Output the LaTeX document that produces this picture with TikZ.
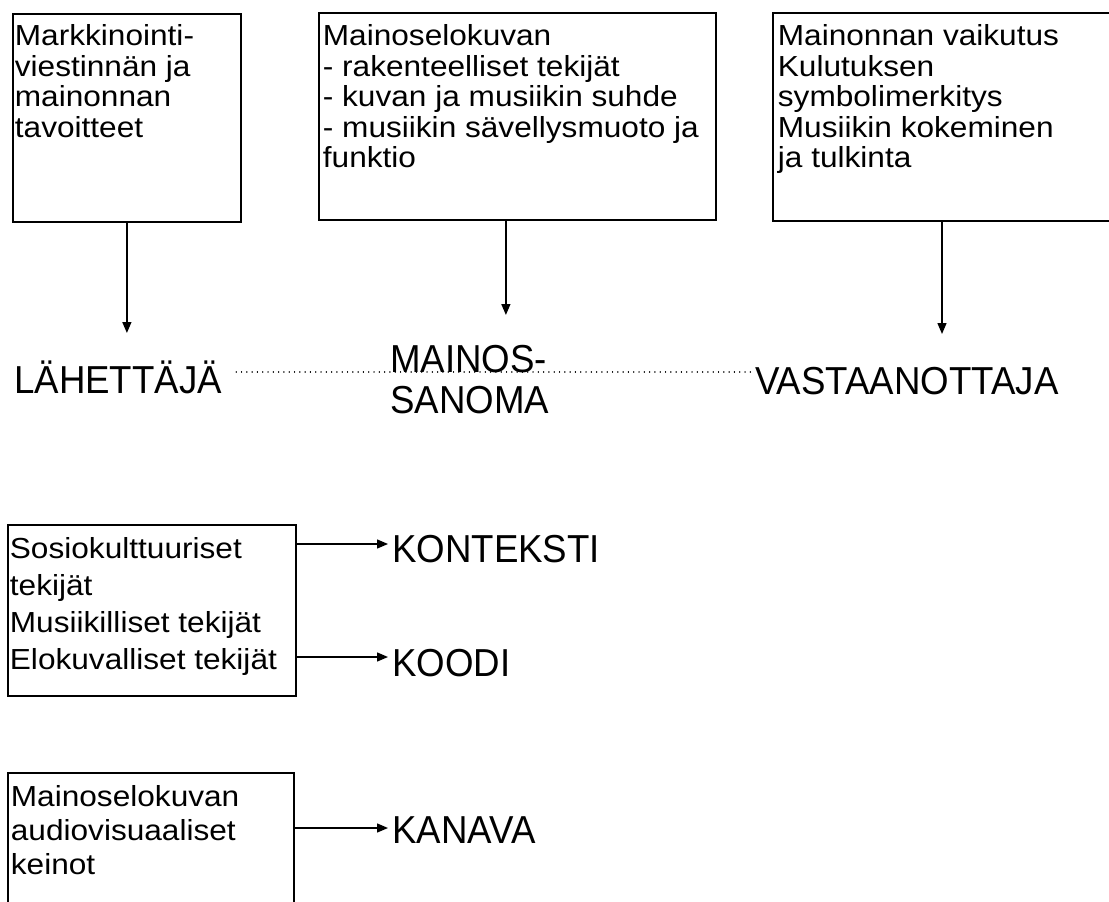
\documentclass[tikz,border=0pt]{standalone}
\usepackage{fontspec}
\usetikzlibrary{arrows.meta,calc}
\setmainfont{Liberation Sans}
% Box lettering is a touch wider, the large labels a touch narrower
\newfontfamily\boxfont[FakeStretch=1.09]{Liberation Sans}
\newfontfamily\labelfont[FakeStretch=0.94]{Liberation Sans}

\tikzset{
  txtbox/.style={draw, line width=1.8pt, inner sep=0pt, anchor=north west},
  biglabel/.style={inner sep=0pt, anchor=base west,
    font=\labelfont\fontsize{39}{41}\selectfont},
  arr/.style={line width=1.4pt, -{Triangle[length=11pt,width=9pt]}},
  dotline/.style={line width=1.3pt, line cap=round, dash pattern=on 0.1pt off 5.2pt},
}

% box contents: width, height, left indent, first-line strut, line spacing, text
\newcommand\boxtext[6]{\parbox[c][#2][t]{#1}{\boxfont\fontsize{29}{#5}\selectfont
  \lineskiplimit=-20pt\leftskip=#3\relax\rule{0pt}{#4}#6}}

\begin{document}
\begin{tikzpicture}[x=1pt,y=-1pt]
\useasboundingbox (0,0) rectangle (1109,902);
\clip (0,0) rectangle (1109,902);
\fill[white] (0,0) rectangle (1109,902);

% --- upper row: boxes -------------------------------------------------
\node[txtbox] (b1) at (12,13)
  {\boxtext{228pt}{208pt}{2pt}{32pt}{30.5}{Markkinointi-\\viestinnän ja\\mainonnan\\tavoitteet}};
\node[txtbox] (b2) at (318,12)
  {\boxtext{397pt}{207pt}{4pt}{33pt}{30.5}{Mainoselokuvan\\- rakenteelliset tekijät\\- kuvan ja musiikin suhde\\- musiikin sävellysmuoto ja\\funktio}};
\node[txtbox] (b3) at (772,12)
  {\boxtext{345pt}{208pt}{5pt}{33pt}{30.5}{Mainonnan vaikutus\\Kulutuksen\\symbolimerkitys\\Musiikin kokeminen\\ja tulkinta}};

% --- communication chain ----------------------------------------------
\node[biglabel] (lah) at (14,393) {LÄHETTÄJÄ};
\node[biglabel] (mai) at (390,372) {\vtop{\hbox{MAINOS-}\hbox{SANOMA}}};
\node[biglabel] (vas) at (755,394) {VASTAANOTTAJA};

\draw[dotline] ([shift={(14,-21)}]lah.base east) -- ([shift={(-4,-22)}]vas.base west);

\draw[arr, shorten >=60pt] (b1.south) -- (b1.south |- lah.base);
\draw[arr, shorten >=57pt] ([xshift=-11.5pt]b2.south) -- ([xshift=-11.5pt]b2.south |- mai.base);
\draw[arr, shorten >=60pt] (b3.south -| 942,0) -- (942,0 |- vas.base);

% --- context and code -------------------------------------------------
\node[txtbox] (b4) at (7,524)
  {\boxtext{288pt}{171pt}{2pt}{34pt}{37}{Sosiokulttuuriset\\tekijät\\Musiikilliset tekijät\\Elokuvalliset tekijät}};
\node[biglabel] (kon) at (392,562) {KONTEKSTI};
\node[biglabel] (koo) at (392,676) {KOODI};
\coordinate (konin) at ([yshift=18pt]kon.base west);
\coordinate (kooin) at ([yshift=19pt]koo.base west);
\draw[arr, shorten >=4pt] (b4.east |- konin) -- (konin);
\draw[arr, shorten >=4pt] (b4.east |- kooin) -- (kooin);

% --- channel ------------------------------------------------------------
\node[txtbox] (b5) at (7,772)
  {\boxtext{286pt}{150pt}{3pt}{34pt}{34}{Mainoselokuvan\\audiovisuaaliset\\keinot}};
\node[biglabel] (kan) at (392,843) {KANAVA};
\coordinate (kanin) at ([yshift=15pt]kan.base west);
\draw[arr, shorten >=4pt] (b5.east |- kanin) -- (kanin);
\end{tikzpicture}
\end{document}
